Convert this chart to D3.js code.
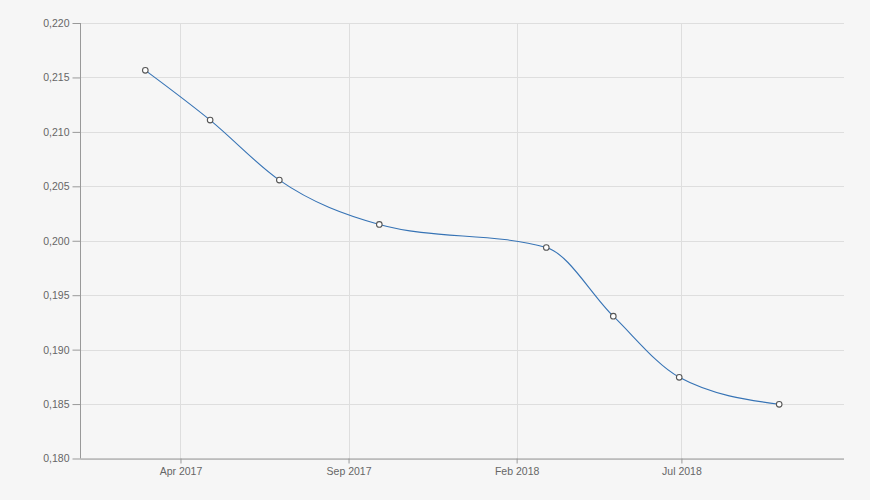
<!DOCTYPE html>
<html>
<head>
<meta charset="utf-8">
<script src="https://cdn.jsdelivr.net/npm/d3@7"></script>
<style>
  html, body { margin: 0; padding: 0; background: #f6f6f6; }
  svg { display: block; }
  .axis text { font-family: "Liberation Sans", Arial, sans-serif; font-size: 10.5px; fill: #666; }
</style>
</head>
<body>
<svg id="chart" width="870" height="500"></svg>
<script>
const dates = ["2017-02-28", "2017-04-28", "2017-06-30", "2017-09-29", "2018-02-28", "2018-04-30", "2018-06-29", "2018-09-28"];
const values = [0.21565, 0.21108, 0.20557, 0.2015, 0.19938, 0.19307, 0.18746, 0.18498];
const xTickDates = ["2017-04-01", "2017-09-01", "2018-02-01", "2018-07-01"];
const yTicks = [0.180, 0.185, 0.190, 0.195, 0.200, 0.205, 0.210, 0.215, 0.220];

const parse = d3.utcParse("%Y-%m-%d");
const data = dates.map((d, i) => ({ date: parse(d), value: values[i] }));

const W = 870, H = 500;
const margin = { top: 23, right: 26, bottom: 41.5, left: 80.5 };
const svg = d3.select("#chart");
svg.append("rect").attr("width", W).attr("height", H).attr("fill", "#f6f6f6");

const first = data[0].date, last = data[data.length - 1].date;
const x = d3.scaleUtc()
  .domain([d3.utcDay.offset(first, -59), d3.utcDay.offset(last, 59)])
  .range([margin.left, W - margin.right]);
const y = d3.scaleLinear()
  .domain([0.180, 0.220])
  .range([H - margin.bottom, margin.top]);

const fmtY = v => d3.format(".3f")(v).replace(".", ",");
const fmtX = d3.utcFormat("%b %Y");
const xTicks = xTickDates.map(parse);

// grid
const g = svg.append("g");
g.selectAll("line.hg").data(yTicks).join("line")
  .attr("x1", margin.left).attr("x2", W - margin.right)
  .attr("y1", d => Math.round(y(d)) + 0.5).attr("y2", d => Math.round(y(d)) + 0.5)
  .attr("stroke", "#dedede").attr("stroke-width", 1);
g.selectAll("line.vg").data(xTicks).join("line")
  .attr("x1", d => Math.round(x(d)) + 0.5).attr("x2", d => Math.round(x(d)) + 0.5)
  .attr("y1", margin.top).attr("y2", H - margin.bottom)
  .attr("stroke", "#dedede").attr("stroke-width", 1);

// axes
const yAxis = svg.append("g").attr("class", "axis")
  .attr("transform", `translate(${margin.left},0)`)
  .call(d3.axisLeft(y).tickValues(yTicks).tickFormat(fmtY).tickSize(8).tickPadding(3));
const xAxis = svg.append("g").attr("class", "axis")
  .attr("transform", `translate(0,${H - margin.bottom})`)
  .call(d3.axisBottom(x).tickValues(xTicks).tickFormat(fmtX).tickSize(5).tickPadding(4));
[yAxis, xAxis].forEach(a => {
  a.select(".domain").attr("stroke", "#999");
  a.selectAll(".tick line").attr("stroke", "#999");
});
xAxis.select(".domain").attr("d", `M${margin.left},0.5H${W - margin.right}`);
yAxis.select(".domain").attr("d", `M0,${margin.top}V${H - margin.bottom}`);

// line
const line = d3.line().x(d => x(d.date)).y(d => y(d.value)).curve(d3.curveMonotoneX);
svg.append("path").datum(data)
  .attr("d", line).attr("fill", "none")
  .attr("stroke", "#3673b5").attr("stroke-width", 1.1);

svg.selectAll("circle.pt").data(data).join("circle")
  .attr("cx", d => x(d.date)).attr("cy", d => y(d.value)).attr("r", 2.8)
  .attr("fill", "#ffffff").attr("stroke", "#555").attr("stroke-width", 1.1);
</script>
</body>
</html>
